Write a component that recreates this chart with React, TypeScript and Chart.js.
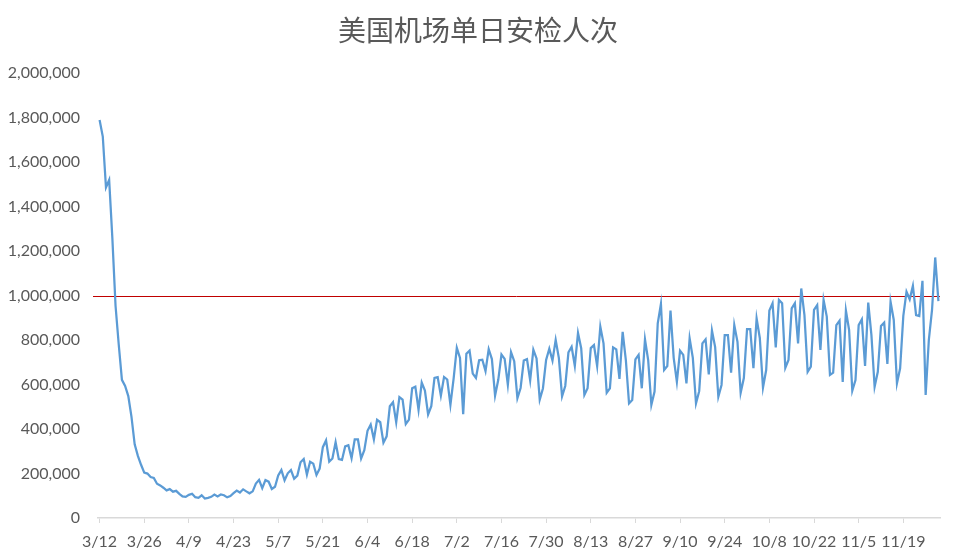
import { useEffect, useRef } from 'react';
import { Chart, registerables } from 'chart.js';

Chart.register(...registerables);

const TITLE = '美国机场单日安检人次';

// Daily screenings, 2020
const MAR = [1788456, 1714372, 1485553, 1519192, 1257823, 953699, 779631, 620883, 593167, 548132, 454516, 331431, 279018, 239234, 203858, 199644, 184027, 180002, 154080, 146348];
const APR = [136023, 124021, 129763, 118302, 122029, 108310, 97130, 94931, 104090, 108977, 93645, 90510, 102184, 87534, 90784, 95085, 105382, 97236, 105601, 102373, 92859, 98968, 111627, 123464, 114459, 128875, 119629, 110913, 119854, 154695];
const MAY = [171563, 134261, 170254, 163205, 130601, 140409, 190863, 215444, 169580, 200815, 215645, 176667, 190477, 250467, 264843, 195124, 253190, 244176, 193340, 222298, 318449, 348673, 253260, 267451, 340769, 264352, 261170, 321776, 327133, 268867, 353261];
const JUN = [352947, 267742, 304436, 391882, 419675, 353016, 441255, 430414, 338382, 367093, 502209, 520298, 429868, 543022, 532006, 421858, 441783, 583056, 590456, 486428, 608935, 572474, 465418, 502567, 630015, 632984, 549972, 633810, 622542, 508961];
const JUL = [626516, 764761, 718988, 466722, 737826, 752410, 648961, 629430, 708797, 711206, 660082, 758932, 714281, 550000, 621074, 734870, 714849, 598669, 745541, 704942, 538082, 584318, 707770, 713906, 619003, 756105, 717009, 532063, 582227, 710676, 760914];
const AUG = [707469, 800398, 718310, 546643, 593437, 744342, 769512, 683839, 831789, 763000, 553000, 583000, 763768, 777000, 683000, 860000, 785000, 563000, 583000, 767000, 758000, 625000, 837000, 710000, 515000, 530000, 713000, 733000, 583000, 803000, 710000];
const SEP = [508000, 568000, 875000, 962000, 665000, 683000, 932000, 720000, 612000, 752000, 733000, 605000, 807000, 720000, 515000, 570000, 785000, 803000, 645000, 842000, 768000, 545000, 598000, 822000, 822000, 653000, 867000, 792000, 563000, 629000];
const OCT = [849000, 849000, 673000, 897000, 809000, 586000, 665000, 932000, 965000, 767000, 980000, 965000, 675000, 710000, 942000, 965000, 785000, 1031505, 912000, 657000, 680000, 935000, 957000, 755000, 980000, 905000, 643000, 653000, 867000, 887000, 612000];
const NOV = [932000, 845000, 572000, 620000, 867000, 893000, 683000, 968000, 822000, 590000, 657000, 863000, 878000, 692000, 972000, 890000, 605000, 673000, 908000, 1017000, 983000, 1043000, 912000, 908000, 1066000, 553000, 800000, 935000, 1171000, 975000];

// [month, first day, values]
const MONTH_SERIES: [number, number, number[]][] = [
  [3, 12, MAR], [4, 1, APR], [5, 1, MAY], [6, 1, JUN], [7, 1, JUL],
  [8, 1, AUG], [9, 1, SEP], [10, 1, OCT], [11, 1, NOV],
];

const TICK_LABELS = ['3/12', '3/26', '4/9', '4/23', '5/7', '5/21', '6/4', '6/18', '7/2', '7/16', '7/30', '8/13', '8/27', '9/10', '9/24', '10/8', '10/22', '11/5', '11/19'];

const Y_MIN = 0;
const Y_MAX = 2000000;
const Y_STEP = 200000;
const THRESHOLD = 1000000;

const LABELS: string[] = [];
const VALUES: number[] = [];
MONTH_SERIES.forEach(([m, d0, vals]) => {
  vals.forEach((v, i) => {
    LABELS.push(`${m}/${d0 + i}`);
    VALUES.push(v);
  });
});
const TICK_SET = new Set(TICK_LABELS);

const FONT = 'Lato, "Noto Sans", sans-serif';
const TEXT = '#595959';

const refLine = {
  id: 'refLine',
  beforeDatasetsDraw(chart: any) {
    const { ctx, chartArea, scales } = chart;
    const py = Math.round(scales.y.getPixelForValue(THRESHOLD)) + 0.5;
    ctx.save();
    ctx.strokeStyle = '#C00000';
    ctx.lineWidth = 1;
    ctx.beginPath();
    ctx.moveTo(chartArea.left - 5, py);
    ctx.lineTo(chartArea.right, py);
    ctx.stroke();
    ctx.restore();
  },
};

const titlePlugin = {
  id: 'pageTitle',
  afterDraw(chart: any) {
    const { ctx, width } = chart;
    ctx.save();
    ctx.fillStyle = TEXT;
    ctx.font = '28px "Noto Sans CJK SC", sans-serif';
    ctx.textAlign = 'center';
    ctx.textBaseline = 'middle';
    ctx.fillText(TITLE, width / 2, 30);
    ctx.restore();
  },
};

export default function App() {
  const ref = useRef<HTMLCanvasElement | null>(null);
  useEffect(() => {
    if (!ref.current) return;
    const chart = new Chart(ref.current, {
      type: 'line',
      data: {
        labels: LABELS,
        datasets: [
          {
            data: VALUES,
            borderColor: '#5B9BD5',
            borderWidth: 2.25,
            pointRadius: 0,
            tension: 0,
            fill: false,
          },
        ],
      },
      options: {
        animation: false,
        responsive: false,
        layout: { padding: { left: 0, right: 16, top: 73, bottom: 0 } },
        plugins: {
          legend: { display: false },
          tooltip: { enabled: false },
          title: { display: false },
        },
        scales: {
          x: {
            type: 'category',
            offset: true,
            grid: {
              drawOnChartArea: false,
              drawTicks: true,
              tickLength: 5,
              tickColor: (c: any) => (TICK_SET.has(LABELS[c.index]) ? '#D9D9D9' : 'rgba(0,0,0,0)'),
            },
            border: { color: '#D9D9D9', width: 1.5 },
            ticks: {
              autoSkip: false,
              maxRotation: 0,
              minRotation: 0,
              padding: 9,
              color: TEXT,
              font: { family: FONT, size: 16 },
              callback: (_v: any, i: number) => (TICK_SET.has(LABELS[i]) ? LABELS[i] : ''),
            },
            afterFit: (s: any) => {
              s.height = 42;
            },
          },
          y: {
            min: Y_MIN,
            max: Y_MAX,
            grid: { display: false, drawTicks: false },
            border: { display: false },
            ticks: {
              stepSize: Y_STEP,
              padding: 18,
              color: TEXT,
              font: { family: FONT, size: 16 },
              callback: (v: any) => Number(v).toLocaleString('en-US'),
            },
            afterFit: (s: any) => {
              s.width = 98;
            },
          },
        },
      },
      plugins: [refLine, titlePlugin],
    });
    return () => chart.destroy();
  }, []);
  return (
    <div style={{ position: 'absolute', left: 0, top: 0, width: 956, height: 560, background: '#fff' }}>
      <canvas ref={ref} width={956} height={560} />
    </div>
  );
}
